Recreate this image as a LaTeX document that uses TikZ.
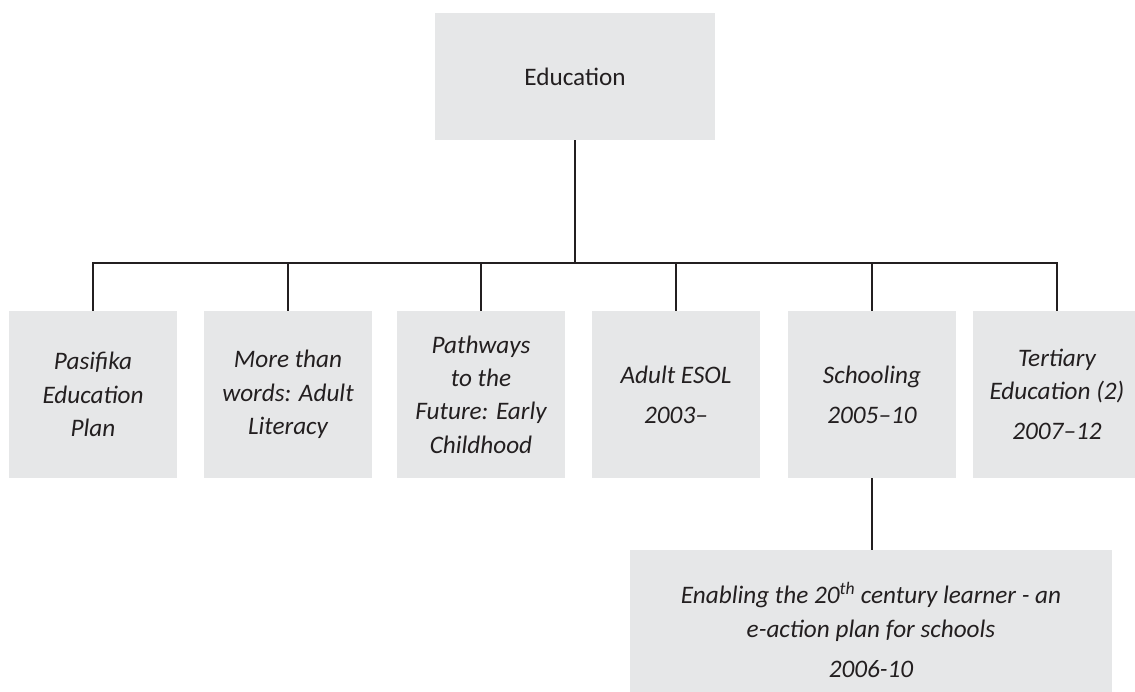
\documentclass[tikz,border=0pt]{standalone}
\usepackage{fontspec}
\setmainfont{Carlito}
\definecolor{boxfill}{HTML}{E6E7E8}
\definecolor{linec}{HTML}{231F20}
\begin{document}
\begin{tikzpicture}[x=1pt,y=-1pt,
  box/.style={fill=boxfill,draw=none,inner sep=0pt,align=center,text=linec,
    font=\fontsize{25.2}{33.3}\selectfont\itshape},
  child/.style={box,minimum width=168pt,minimum height=167pt},
  conn/.style={draw=linec,line width=1.4pt}]
\useasboundingbox (0,0) rectangle (1135,691);
\clip (0,0) rectangle (1135,691);
\fill[white] (0,0) rectangle (1135,691);
\node[box,font=\fontsize{25.2}{33.3}\selectfont,minimum width=280pt,minimum height=127pt] (edu) at (575,76.5) {Education};
\node[child] (b1) at (93,394.5) {Pasifika\\Education\\Plan};
\node[child] (b2) at (288,394.5) {More than\\words: Adult\\Literacy};
\node[child] (b3) at (481,394.5) {Pathways\\to the\\Future: Early\\Childhood};
\node[child] (b4) at (676,394.5) {Adult ESOL\\[6.7pt]2003–};
\node[child] (b5) at (872,394.5) {Schooling\\[6.7pt]2005–10};
\node[child] (b6) at (1057,394.5) {Tertiary\\Education (2)\\[6.7pt]2007–12};
\node[box,minimum width=482pt,minimum height=160pt] (b7) at (871,630) {Enabling the 20\textsuperscript{th} century learner - an\\e-action plan for schools\\[6.7pt]2006-10};
\coordinate (bus) at (575,263);
\draw[conn] (edu.south) -- (bus);
\draw[conn] (b1.north) |- (bus) -| (b6.north);
\foreach \b in {b2,b3,b4,b5} \draw[conn] (\b.north) -- (\b.north |- bus);
\draw[conn] (b5.south) -- (b5.south |- b7.north);
\end{tikzpicture}
\end{document}
